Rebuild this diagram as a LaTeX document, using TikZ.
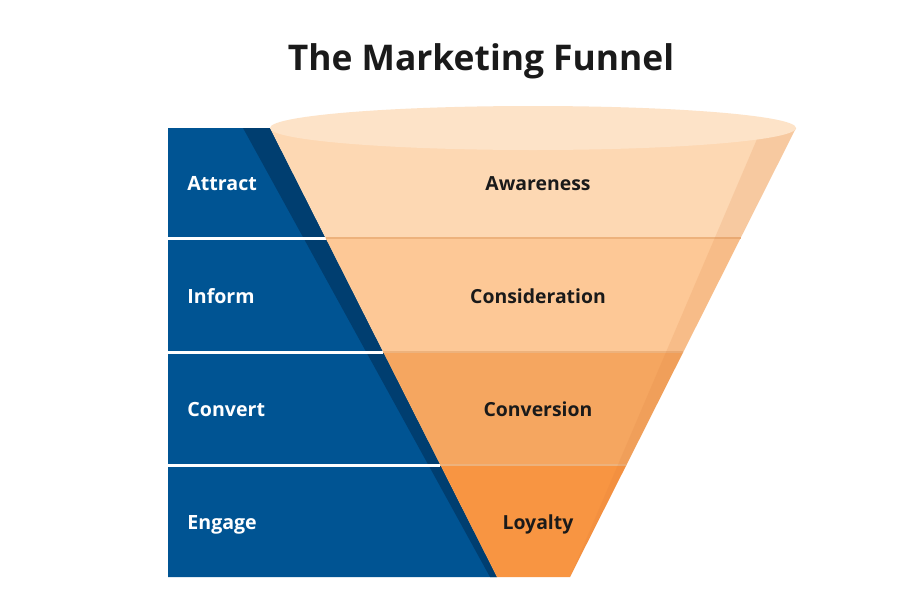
\documentclass[tikz,border=0pt]{standalone}
\usepackage{fontspec}
\setmainfont{Open Sans}
\definecolor{stageblue}{HTML}{005493}
\definecolor{stagedark}{HTML}{003E70}
\definecolor{rimtop}{HTML}{FDE3C8}
\definecolor{awarefill}{HTML}{FDD8B3}
\definecolor{considfill}{HTML}{FDC896}
\definecolor{convfill}{HTML}{F5A660}
\definecolor{loyalfill}{HTML}{F89542}
\definecolor{funnelline}{HTML}{EDB27C}
\definecolor{funnelside}{HTML}{D8783A}
\definecolor{titletext}{HTML}{1A1A1A}

\begin{document}
\begin{tikzpicture}[x=0.5pt,y=-0.5pt,
    stage/.style={anchor=base west,inner sep=0pt,text=white,font=\bfseries\fontsize{9.8}{12}\selectfont},
    level/.style={anchor=base,inner sep=0pt,text=titletext,font=\bfseries\fontsize{9.7}{12}\selectfont}
  ]
  \useasboundingbox (0,0) rectangle (900,600);
  \fill[white] (0,0) rectangle (900,600);

  \node[anchor=base,inner sep=0pt,text=titletext,font=\bfseries\fontsize{17.7}{22}\selectfont] (title) at (481,70) {The Marketing Funnel};

  % blue stages
  \fill[stageblue] (168,128) -- (270,128) -- (497,577) -- (168,577) -- cycle;
  \fill[stagedark] (243,128) -- (270,128) -- (497,577) -- (490,577) -- cycle;
  \draw[white,line width=1.5pt] (168,238) -- (325.6,238);
  \draw[white,line width=1.5pt] (168,352) -- (383.2,352);
  \draw[white,line width=1.5pt] (168,465) -- (440.4,465);

  % funnel
  \fill[awarefill] (270,128) -- (796,128) -- (740.6,238) -- (325.6,238) -- cycle;
  \fill[considfill] (325.6,238) -- (740.6,238) -- (683.3,352) -- (383.2,352) -- cycle;
  \fill[convfill] (383.2,352) -- (683.3,352) -- (626.4,465) -- (440.4,465) -- cycle;
  \fill[loyalfill] (440.4,465) -- (626.4,465) -- (570,577) -- (497,577) -- cycle;
  \draw[funnelline,line width=0.6pt] (325.6,238) -- (740.6,238);
  \draw[funnelline,line width=0.6pt] (383.2,352) -- (683.3,352);
  \draw[funnelline,line width=0.6pt] (440.4,465) -- (626.4,465);
  \fill[funnelside,opacity=0.15] (757,139) -- (796,128) -- (570,577) -- cycle;
  \fill[rimtop] (533,128) ellipse [x radius=263, y radius=22];

  \node[stage] (attract) at (187,190) {Attract};
  \node[stage] (inform) at (187,303) {Inform};
  \node[stage] (convert) at (187,416) {Convert};
  \node[stage] (engage) at (187,529) {Engage};

  \node[level] (awareness) at (538,190) {Awareness};
  \node[level] (consideration) at (538,303) {Consideration};
  \node[level] (conversion) at (538,416) {Conversion};
  \node[level] (loyalty) at (538,529) {Loyalty};
\end{tikzpicture}
\end{document}
